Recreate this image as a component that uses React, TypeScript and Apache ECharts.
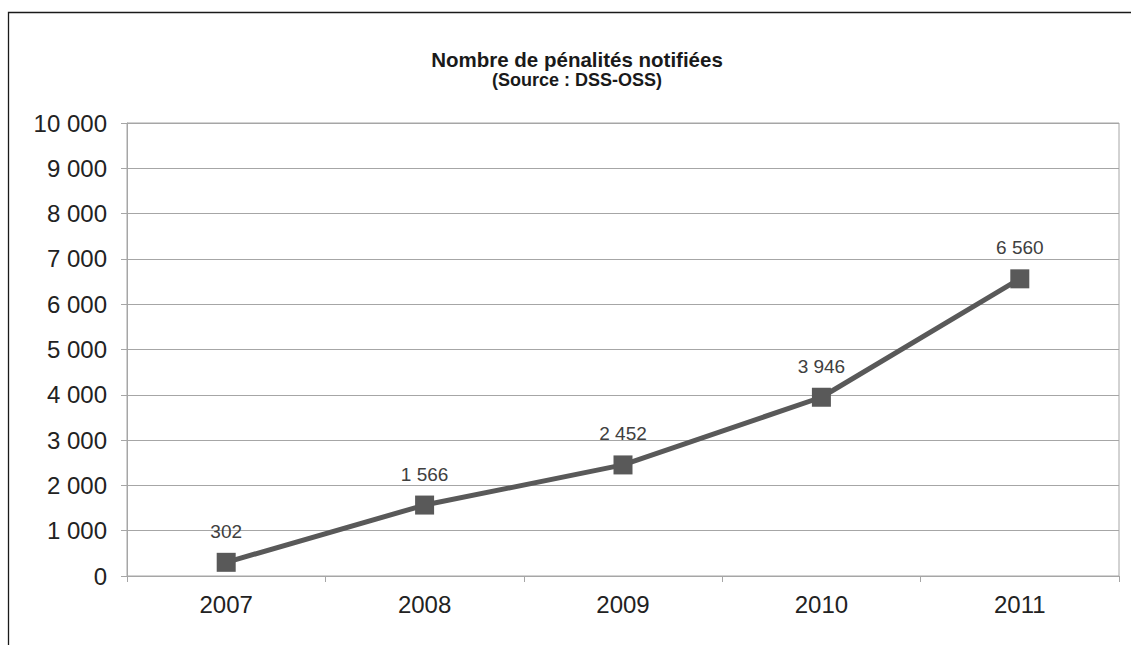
import React, { useEffect, useRef } from "react";
import * as echarts from "echarts";

const categories = ["2007", "2008", "2009", "2010", "2011"];
const values = [302, 1566, 2452, 3946, 6560];
const titleText = "Nombre de pénalités notifiées";
const subtitleText = "(Source : DSS-OSS)";

const fmt = (v: number) => {
  const s = String(Math.round(v));
  return s.replace(/\B(?=(\d{3})+(?!\d))/g, " ");
};

export default function App() {
  const ref = useRef<HTMLDivElement>(null);
  useEffect(() => {
    if (!ref.current) return;
    const chart = echarts.init(ref.current, null, { renderer: "svg" });
    const font = "'Liberation Sans', Arial, sans-serif";
    chart.setOption({
      animation: false,
      backgroundColor: "#ffffff",
      textStyle: { fontFamily: font },
      title: {
        text: titleText,
        subtext: subtitleText,
        left: 572,
        textAlign: "center",
        top: 43,
        itemGap: 0,
        textStyle: { fontSize: 20.5, fontWeight: "bold", color: "#1a1a1a", fontFamily: font, lineHeight: 22 },
        subtextStyle: { fontSize: 18, fontWeight: "bold", color: "#1a1a1a", fontFamily: font, lineHeight: 19 },
      },
      graphic: [
        {
          type: "rect",
          shape: { x: 8.5, y: 12.5, width: 1140, height: 700 },
          style: { fill: "none", stroke: "#1a1a1a", lineWidth: 1.3 },
          silent: true,
        },
      ],
      grid: {
        left: 127,
        top: 123,
        right: 12,
        bottom: 69,
        show: true,
        borderColor: "#a6a6a6",
        borderWidth: 1,
        backgroundColor: "transparent",
      },
      xAxis: {
        type: "category",
        data: categories,
        boundaryGap: true,
        axisLine: { show: true, lineStyle: { color: "#a6a6a6", width: 1 } },
        axisTick: { show: true, length: 6, alignWithLabel: false, lineStyle: { color: "#a6a6a6" } },
        axisLabel: { fontSize: 24, color: "#222222", margin: 16, fontFamily: font },
        splitLine: { show: false },
      },
      yAxis: {
        type: "value",
        min: 0,
        max: 10000,
        interval: 1000,
        axisLine: { show: true, lineStyle: { color: "#a6a6a6", width: 1 } },
        axisTick: { show: true, length: 6, lineStyle: { color: "#a6a6a6" } },
        axisLabel: {
          fontSize: 24,
          color: "#222222",
          margin: 20,
          fontFamily: font,
          formatter: (v: number) => fmt(v),
        },
        splitLine: { show: true, lineStyle: { color: "#a6a6a6", width: 1 } },
      },
      series: [
        {
          type: "line",
          data: values,
          lineStyle: { color: "#595959", width: 5 },
          itemStyle: { color: "#595959" },
          symbol: "rect",
          symbolSize: 19,
          label: {
            show: true,
            position: "top",
            distance: 12,
            fontSize: 19,
            color: "#404040",
            fontFamily: font,
            formatter: (p: any) => fmt(p.value),
          },
        },
      ],
    });
    return () => chart.dispose();
  }, []);
  return (
    <div
      ref={ref}
      style={{ position: "fixed", left: 0, top: 0, width: 1131, height: 645 }}
    />
  );
}
